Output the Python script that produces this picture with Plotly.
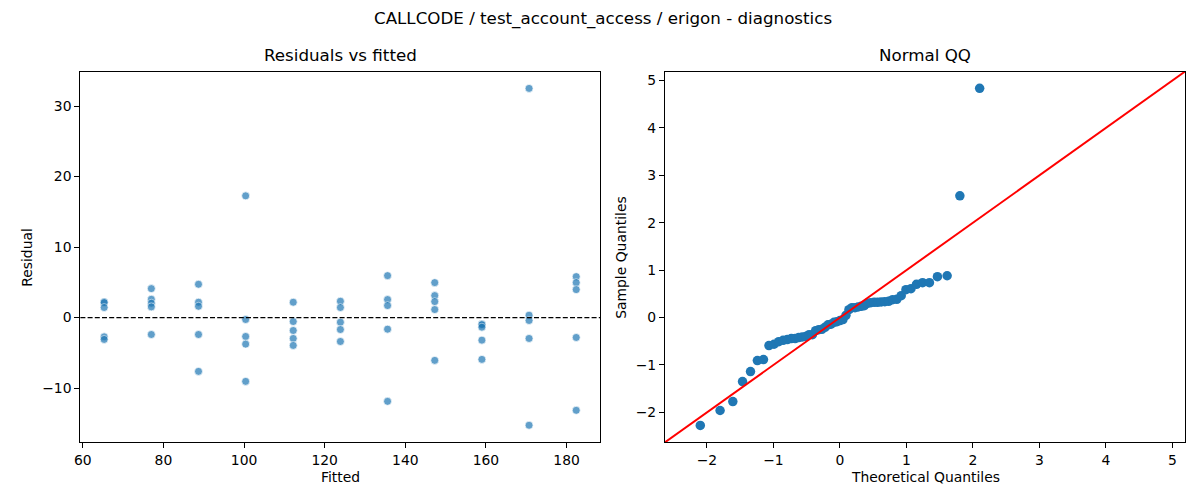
"""
Regression diagnostics: residuals vs fitted and normal QQ plot.
"""

from statistics import NormalDist

import numpy as np
import plotly.graph_objects as go

### DATA
TITLE = 'CALLCODE / test_account_access / erigon - diagnostics'

# fitted value of each group (5 runs per group)
fitted_levels = [65.3, 77.0, 88.7, 100.4, 112.2, 123.9, 135.6, 147.3, 159.0, 170.7, 182.4]

# residuals read per fitted group
residuals_by_level = [
    [2.22, 2.12, 1.42, -2.74, -3.11],
    [4.10, 2.59, 2.03, 1.51, -2.41],
    [4.72, 2.17, 1.60, -2.41, -7.64],
    [17.26, -0.28, -2.69, -3.77, -9.06],
    [2.17, -0.57, -1.84, -2.97, -3.96],
    [2.31, 1.42, -0.66, -1.70, -3.40],
    [5.94, 2.55, 1.70, -1.65, -11.89],
    [4.95, 3.11, 2.26, 1.13, -6.08],
    [-0.93, -1.02, -1.37, -3.21, -5.94],
    [32.50, 0.33, -0.42, -2.97, -15.28],
    [5.80, 4.95, 3.96, -2.83, -13.16],
]

### STYLE
FONT = 'DejaVu Sans'
BLUE = '#1f77b4'
TICK_SIZE = 13.9
TITLE_SIZE = 16.7

LEFT_DOM = [0.0623, 0.4975]
RIGHT_DOM = [0.5519, 0.9875]
Y_DOM = [0.1154, 0.857]

### ANALYSIS
fitted = np.repeat(fitted_levels, [len(r) for r in residuals_by_level])
resid = np.concatenate([np.array(r) for r in residuals_by_level])

# normal QQ (standardised with fitted loc/scale, positions i/(n+1))
n = len(resid)
sample_q = (np.sort(resid) - resid.mean()) / resid.std()
theo_q = np.array([NormalDist().inv_cdf(i / (n + 1)) for i in range(1, n + 1)])


def padded(lo, hi, frac=0.05):
    span = hi - lo
    return lo - frac * span, hi + frac * span


# 45 degree line spans the common axis limits
qx = padded(theo_q.min(), theo_q.max())
qy = padded(sample_q.min(), sample_q.max())
q_lo, q_hi = min(qx[0], qy[0]), max(qx[1], qy[1])

### PLOTTING
fig = go.Figure()

fig.add_trace(go.Scatter(
    x=fitted,
    y=resid,
    mode='markers',
    marker={
        'size': 8,
        'color': BLUE,
        'opacity': 0.7,
        'line': {'color': 'white', 'width': 0.7},
    },
    xaxis='x',
    yaxis='y',
    hoverinfo='skip',
))

fig.add_trace(go.Scatter(
    x=theo_q,
    y=sample_q,
    mode='markers',
    marker={'size': 9.5, 'color': BLUE, 'line': {'width': 0}},
    xaxis='x2',
    yaxis='y2',
    hoverinfo='skip',
))

fig.add_trace(go.Scatter(
    x=[q_lo, q_hi],
    y=[q_lo, q_hi],
    mode='lines',
    line={'color': 'red', 'width': 2},
    xaxis='x2',
    yaxis='y2',
    hoverinfo='skip',
))

# zero line on the residual panel
fig.add_shape(
    type='line',
    xref='x domain', yref='y',
    x0=0, x1=1, y0=0, y1=0,
    line={'color': 'black', 'width': 1.3, 'dash': '5px,2.2px'},
)

axis_style = {
    'showline': True,
    'linecolor': 'black',
    'linewidth': 1.1,
    'mirror': True,
    'ticks': 'outside',
    'ticklen': 5,
    'tickwidth': 1.1,
    'tickcolor': 'black',
    'showgrid': False,
    'zeroline': False,
    'tickfont': {'family': FONT, 'size': TICK_SIZE, 'color': 'black'},
}

fig.update_layout(
    width=1200,
    height=500,
    margin={'l': 0, 'r': 0, 't': 0, 'b': 0},
    paper_bgcolor='white',
    plot_bgcolor='white',
    showlegend=False,
    font={'family': FONT, 'color': 'black'},
    xaxis={**axis_style, 'domain': LEFT_DOM, 'range': [59.4, 188.3], 'dtick': 20, 'anchor': 'y'},
    yaxis={**axis_style, 'domain': Y_DOM, 'range': [-17.7, 34.9], 'dtick': 10, 'anchor': 'x'},
    xaxis2={**axis_style, 'domain': RIGHT_DOM, 'range': [q_lo, q_hi], 'dtick': 1, 'anchor': 'y2'},
    yaxis2={**axis_style, 'domain': Y_DOM, 'range': [q_lo, q_hi], 'dtick': 1, 'anchor': 'x2'},
)

left_mid = sum(LEFT_DOM) / 2
right_mid = sum(RIGHT_DOM) / 2
y_mid = sum(Y_DOM) / 2

texts = [
    # (text, x, y, size, angle)
    (TITLE, 0.5, 1 - 18 / 500, TITLE_SIZE, 0),
    ('Residuals vs fitted', left_mid, 1 - 55 / 500, TITLE_SIZE, 0),
    ('Normal QQ', right_mid, 1 - 55 / 500, TITLE_SIZE, 0),
    ('Fitted', left_mid, 1 - 477 / 500, TICK_SIZE, 0),
    ('Theoretical Quantiles', right_mid, 1 - 477 / 500, TICK_SIZE, 0),
    ('Residual', 21 / 1200, y_mid, TICK_SIZE, -90),
    ('Sample Quantiles', 618 / 1200, y_mid, TICK_SIZE, -90),
]

for text, x, y, size, angle in texts:
    fig.add_annotation(
        text=text,
        x=x, y=y,
        xref='paper', yref='paper',
        xanchor='center', yanchor='middle',
        showarrow=False,
        textangle=angle,
        font={'family': FONT, 'size': size, 'color': 'black'},
    )

# drop the default page margin so the figure sits at the window origin
fig.write_html(
    'out.html',
    config={'displayModeBar': False},
    post_script="document.body.style.margin = '0px'; document.body.style.overflow = 'hidden';",
)
